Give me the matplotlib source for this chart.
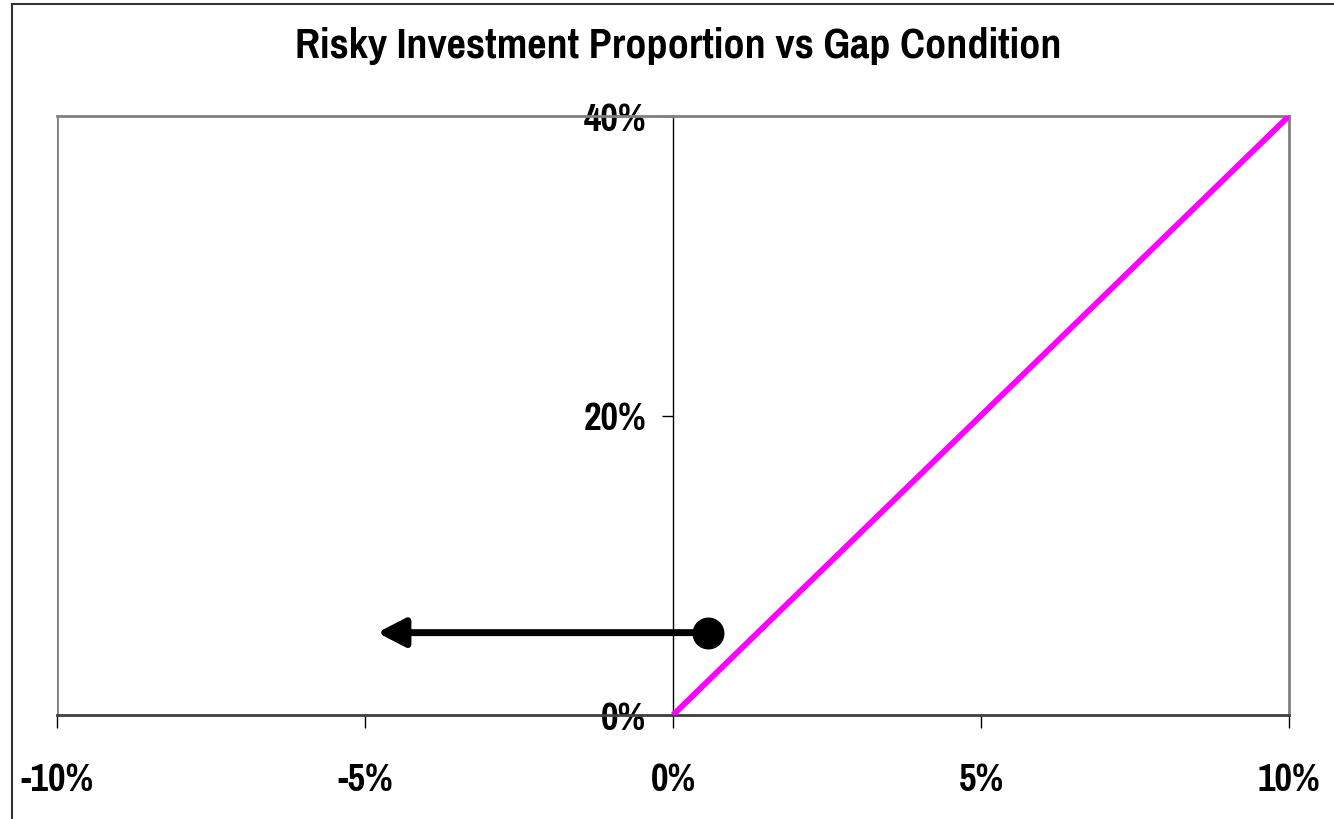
import matplotlib
matplotlib.use("Agg")
import matplotlib.pyplot as plt
from matplotlib.lines import Line2D

plt.rcParams["font.family"] = ["Pragati Narrow", "Roboto Condensed", "DejaVu Sans"]
plt.rcParams["font.weight"] = "bold"

# gap condition (x) vs proportion put in the risky asset (y)
gap = [0.0, 0.10]
risky_share = [0.0, 0.40]

# current position and where it moves to
point_gap = 0.0057
point_share = 0.055
arrow_to_gap = -0.048

x_ticks = [-0.10, -0.05, 0.0, 0.05, 0.10]
x_labels = ["-10%", "-5%", "0%", "5%", "10%"]
y_ticks = [0.0, 0.20, 0.40]
y_labels = ["0%", "20%", "40%"]

fig = plt.figure(figsize=(13.34, 8.2), dpi=100)
ax = fig.add_axes([57 / 1334, 1 - 716 / 820, (1289 - 57) / 1334, (716 - 117) / 820])

ax.plot(gap, risky_share, color="#FF00FF", lw=4.2, solid_capstyle="butt", zorder=3)

ax.annotate("", xy=(arrow_to_gap, point_share), xytext=(point_gap, point_share),
            arrowprops=dict(arrowstyle="-|>,head_length=0.83,head_width=0.43",
                            lw=5, color="black", shrinkA=0, shrinkB=0,
                            mutation_scale=20), zorder=4)
ax.plot([point_gap], [point_share], "o", color="black", markersize=22, zorder=5)

ax.set_xlim(-0.10, 0.10)
ax.set_ylim(0, 0.40)

# y axis crosses at zero, plot area frame in grey
ax.spines["left"].set_position(("data", 0))
ax.spines["left"].set_color("black")
ax.spines["left"].set_linewidth(1.0)
for side in ["top", "right"]:
    ax.spines[side].set_color("#808080")
    ax.spines[side].set_linewidth(2)
ax.spines["bottom"].set_color("#404040")
ax.spines["bottom"].set_linewidth(2)
ax.axvline(-0.10, color="#808080", lw=2, zorder=1)

ax.set_xticks(x_ticks)
ax.set_xticklabels(x_labels)
ax.set_yticks(y_ticks)
ax.set_yticklabels(y_labels)
ax.tick_params(axis="x", direction="out", length=9.5, width=1, pad=24, labelsize=30)
ax.tick_params(axis="y", direction="out", length=8, width=1, pad=11, labelsize=30)
for lab in ax.get_xticklabels() + ax.get_yticklabels():
    lab.set_fontweight("bold")

fig.text(0.5085, 1 - 46 / 820, "Risky Investment Proportion vs Gap Condition",
         ha="center", va="center", fontsize=33, fontweight="bold")

# chart border, left and top edges
fig.add_artist(Line2D([12 / 1334, 12 / 1334], [0, 1 - 5 / 820], color="#333333", lw=1.5))
fig.add_artist(Line2D([12 / 1334, 1], [1 - 5 / 820, 1 - 5 / 820], color="#333333", lw=1.5))

fig.savefig("out.png", dpi=100)
